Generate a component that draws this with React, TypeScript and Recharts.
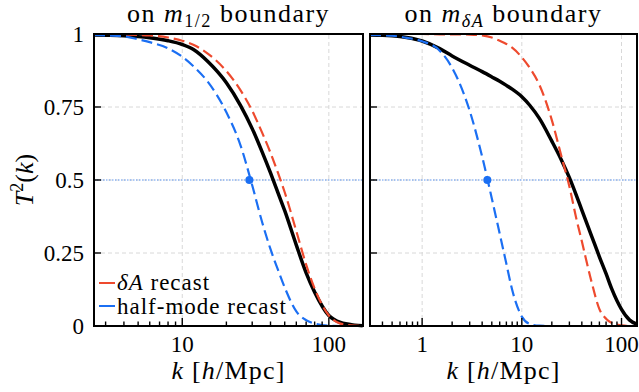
import React from 'react';
import { LineChart, Line, XAxis, YAxis, ReferenceLine, ReferenceDot } from 'recharts';

// left panel: on m_1/2 boundary
const kLeft = [2.5, 3, 4, 5, 6, 8, 10, 12, 15, 20, 25, 30, 35, 40, 45, 50, 60, 70, 80, 100, 120, 150, 170];
const blackLeft = [0.997, 0.996, 0.994, 0.991, 0.987, 0.977, 0.964, 0.946, 0.905, 0.833, 0.755, 0.676, 0.597, 0.524, 0.456, 0.395, 0.277, 0.182, 0.116, 0.036, 0.012, 0.003, 0.001];
const redLeft = [0.999, 0.999, 0.998, 0.997, 0.995, 0.988, 0.977, 0.962, 0.932, 0.873, 0.807, 0.737, 0.663, 0.593, 0.524, 0.458, 0.325, 0.21, 0.128, 0.036, 0.008, 0.001, 0];
const blueLeft = [0.997, 0.995, 0.992, 0.982, 0.972, 0.951, 0.922, 0.888, 0.835, 0.732, 0.618, 0.482, 0.357, 0.263, 0.192, 0.132, 0.05, 0.02, 0.008, 0.001, 0, 0, 0];

// right panel: on m_deltaA boundary
const kRight = [0.3, 0.4, 0.5, 0.7, 1, 1.5, 2, 3, 4, 5, 6, 7, 8, 10, 12, 15, 20, 25, 30, 35, 40, 50, 60, 70, 80, 100, 120, 143];
const blackRight = [0.997, 0.996, 0.994, 0.988, 0.976, 0.95, 0.925, 0.893, 0.871, 0.853, 0.838, 0.824, 0.811, 0.785, 0.756, 0.711, 0.633, 0.568, 0.508, 0.45, 0.397, 0.309, 0.237, 0.179, 0.126, 0.057, 0.021, 0.006];
const redRight = [1, 1, 1, 1, 1, 0.999, 0.999, 0.998, 0.995, 0.988, 0.977, 0.966, 0.953, 0.92, 0.884, 0.826, 0.705, 0.58, 0.478, 0.372, 0.29, 0.152, 0.058, 0.025, 0.01, 0.002, 0, 0];
const blueRight = [0.997, 0.996, 0.994, 0.987, 0.975, 0.943, 0.884, 0.737, 0.58, 0.437, 0.316, 0.213, 0.124, 0.032, 0.007, 0.001, 0, 0, 0, 0, 0, 0, 0, 0, 0, 0, 0, 0];

const halfModeLeft = 28.7;
const halfModeRight = 4.51;

const yTicks = [0, 0.25, 0.5, 0.75, 1];
const yGrid = [0.25, 0.5, 0.75];
const leftMajor = [10, 100];
const leftMinor = [3, 4, 5, 6, 7, 8, 9, 20, 30, 40, 50, 60, 70, 80, 90];
const rightMajor = [1, 10, 100];
const rightMinor = [0.4, 0.5, 0.6, 0.7, 0.8, 0.9, 2, 3, 4, 5, 6, 7, 8, 9, 20, 30, 40, 50, 60, 70, 80, 90];

const RED = '#ee4a2e';
const BLUE = '#1b6ff3';
const FONT = "'Liberation Serif', serif";
const PLOT_BOTTOM = 326;

const toRows = (ks: number[], black: number[], red: number[], blue: number[]) =>
  ks.map((k, i) => ({ k, black: black[i], red: red[i], blue: blue[i] }));

function renderXTick(props: any, majors: number[]) {
  const { x, payload } = props;
  const v = payload.value;
  const major = majors.includes(v);
  return (
    <g>
      <line x1={x} x2={x} y1={PLOT_BOTTOM} y2={PLOT_BOTTOM - (major ? 8 : 4.5)} stroke="#000" strokeWidth={1.4} />
      {major && (
        <text x={x} y={352} textAnchor="middle" style={{ fontFamily: FONT, fontSize: 23 }} fill="#000">
          {v}
        </text>
      )}
    </g>
  );
}

function renderYTick(props: any, left: number, labels: boolean) {
  const { y, payload } = props;
  return (
    <g>
      <line x1={left} x2={left + 7} y1={y} y2={y} stroke="#000" strokeWidth={1.4} />
      {labels && (
        <text x={left - 10} y={y} dy="0.33em" textAnchor="end" style={{ fontFamily: FONT, fontSize: 23 }} fill="#000">
          {payload.value}
        </text>
      )}
    </g>
  );
}

interface PanelProps {
  rows: any[];
  domain: [number, number];
  majors: number[];
  minors: number[];
  halfMode: number;
  left: number;
  width: number;
  axisWidth: number;
  rightMargin: number;
  labels: boolean;
}

function Panel({ rows, domain, majors, minors, halfMode, left, width, axisWidth, rightMargin, labels }: PanelProps) {
  const ticks = [...minors, ...majors].sort((a, b) => a - b);
  return (
    <div style={{ position: 'absolute', left, top: 0 }}>
      <LineChart width={width} height={392} data={rows} margin={{ top: 34, right: rightMargin, bottom: 0, left: 0 }}>
        <XAxis
          dataKey="k"
          type="number"
          scale="log"
          domain={domain}
          allowDataOverflow
          ticks={ticks}
          interval={0}
          height={66}
          axisLine={false}
          tickLine={false}
          tickSize={0}
          tickMargin={0}
          tick={(p: any) => renderXTick(p, majors)}
        />
        <YAxis
          type="number"
          domain={[0, 1]}
          ticks={yTicks}
          interval={0}
          width={axisWidth}
          axisLine={false}
          tickLine={false}
          tickSize={0}
          tickMargin={0}
          tick={(p: any) => renderYTick(p, axisWidth, labels)}
        />
        {majors.map((m) => (
          <ReferenceLine key={'vx' + m} x={m} stroke="#d8d8d8" strokeDasharray="4 3" strokeWidth={1} />
        ))}
        {yGrid.map((g) => (
          <ReferenceLine key={'hy' + g} y={g} stroke="#d8d8d8" strokeDasharray="4 3" strokeWidth={1} />
        ))}
        <ReferenceLine y={0.5} stroke="#5f97f2" strokeDasharray="1.5 1.5" strokeWidth={1} />
        <ReferenceLine y={1} stroke="#000" strokeDasharray="2 2" strokeWidth={1.2} />
        <Line type="monotone" dataKey="black" stroke="#000" strokeWidth={3.5} dot={false} isAnimationActive={false} />
        <Line type="monotone" dataKey="red" stroke={RED} strokeWidth={2.2} strokeDasharray="11 5" dot={false} isAnimationActive={false} />
        <Line type="monotone" dataKey="blue" stroke={BLUE} strokeWidth={2.2} strokeDasharray="11 5" dot={false} isAnimationActive={false} />
        <ReferenceDot x={halfMode} y={0.5} r={4} fill={BLUE} stroke="none" />
      </LineChart>
    </div>
  );
}

const frame = (left: number, width: number): React.CSSProperties => ({
  position: 'absolute',
  left: left - 1,
  top: 33,
  width: width + 2,
  height: 294,
  border: '2px solid #000',
  boxSizing: 'border-box',
  pointerEvents: 'none',
});

const titleStyle = (left: number, width: number): React.CSSProperties => ({
  position: 'absolute',
  left,
  width,
  top: 1,
  textAlign: 'center',
  fontSize: 26,
  lineHeight: '26px',
  letterSpacing: 1.5,
  whiteSpace: 'nowrap',
});

const xLabelStyle = (left: number, width: number): React.CSSProperties => ({
  position: 'absolute',
  left,
  width,
  top: 358,
  textAlign: 'center',
  fontSize: 26,
  lineHeight: '26px',
  letterSpacing: 1.2,
  whiteSpace: 'nowrap',
});

const subStyle: React.CSSProperties = { fontSize: '0.7em', position: 'relative', top: '0.3em' };

export default function App() {
  const leftRows = toRows(kLeft, blackLeft, redLeft, blueLeft);
  const rightRows = toRows(kRight, blackRight, redRight, blueRight);
  return (
    <div style={{ position: 'absolute', left: 0, top: 0, width: 639, height: 392, background: '#fff', fontFamily: FONT, color: '#000', overflow: 'hidden' }}>
      <Panel rows={leftRows} domain={[2.5, 171]} majors={leftMajor} minors={leftMinor} halfMode={halfModeLeft}
        left={0} width={370} axisWidth={94} rightMargin={7} labels />
      <Panel rows={rightRows} domain={[0.3, 143]} majors={rightMajor} minors={rightMinor} halfMode={halfModeRight}
        left={360} width={279} axisWidth={10} rightMargin={2} labels={false} />

      <div style={frame(94, 269)} />
      <div style={frame(370, 267)} />

      <div style={titleStyle(94, 269)}>
        on <i>m</i><span style={subStyle}>1/2</span> boundary
      </div>
      <div style={titleStyle(370, 267)}>
        on <i>m</i><span style={subStyle}><i>δA</i></span> boundary
      </div>

      <div style={xLabelStyle(94, 269)}>
        <i>k</i> [<i>h</i>/Mpc]
      </div>
      <div style={xLabelStyle(370, 267)}>
        <i>k</i> [<i>h</i>/Mpc]
      </div>

      <div style={{ position: 'absolute', left: 26, top: 180, transform: 'translate(-50%, -50%) rotate(-90deg)', fontSize: 26, lineHeight: '26px', whiteSpace: 'nowrap' }}>
        <i>T</i><span style={{ fontSize: '0.7em', position: 'relative', top: '-0.55em' }}>2</span>(<i>k</i>)
      </div>

      {/* legend */}
      <div style={{ position: 'absolute', left: 99, top: 282, width: 16, height: 2, background: RED }} />
      <div style={{ position: 'absolute', left: 99, top: 305, width: 16, height: 2, background: BLUE }} />
      <div style={{ position: 'absolute', left: 117, top: 271, fontSize: 23, lineHeight: '23px', letterSpacing: 1, whiteSpace: 'nowrap' }}>
        <i>δA</i> recast
      </div>
      <div style={{ position: 'absolute', left: 117, top: 295, fontSize: 23, lineHeight: '23px', letterSpacing: 1, whiteSpace: 'nowrap' }}>
        half-mode recast
      </div>
    </div>
  );
}
